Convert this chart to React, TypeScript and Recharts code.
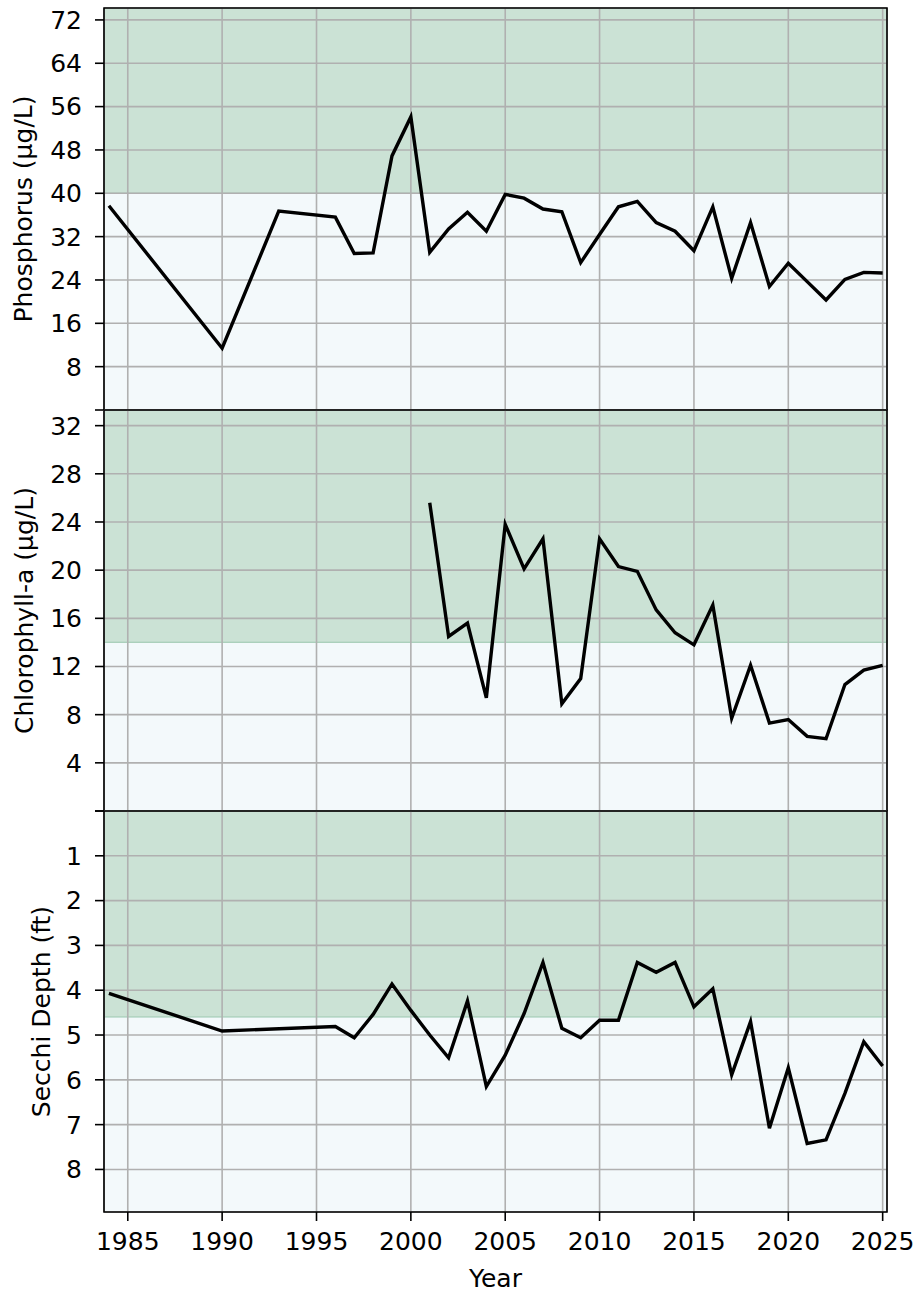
import React from 'react';
import { LineChart, Line, XAxis, YAxis, CartesianGrid, ReferenceArea, ReferenceLine } from 'recharts';

const years = [1984, 1990, 1993, 1996, 1997, 1998, 1999, 2000, 2001, 2002, 2003, 2004, 2005, 2006, 2007, 2008, 2009, 2010, 2011, 2012, 2013, 2014, 2015, 2016, 2017, 2018, 2019, 2020, 2021, 2022, 2023, 2024, 2025];
const phosphorus = [37.7, 11.4, 36.7, 35.6, 28.9, 29.0, 46.9, 54.1, 29.1, 33.4, 36.5, 33.0, 39.8, 39.1, 37.1, 36.6, 27.2, 32.4, 37.5, 38.5, 34.6, 33.0, 29.4, 37.5, 24.3, 34.6, 22.8, 27.1, 23.7, 20.3, 24.1, 25.4, 25.3];
const chlorophyll = [null, null, null, null, null, null, null, null, 25.6, 14.5, 15.6, 9.4, 23.8, 20.1, 22.6, 8.9, 11.0, 22.6, 20.3, 19.9, 16.7, 14.8, 13.8, 17.1, 7.7, 12.1, 7.3, 7.6, 6.2, 6.0, 10.5, 11.7, 12.1];
const secchi = [4.07, 4.91, null, 4.81, 5.06, 4.54, 3.86, 4.45, 5.0, 5.51, 4.24, 6.15, 5.45, 4.52, 3.38, 4.85, 5.06, 4.67, 4.67, 3.38, 3.6, 3.38, 4.37, 3.97, 5.89, 4.70, 7.08, 5.73, 7.42, 7.34, 6.30, 5.15, 5.69];

const yearTicks = [1985, 1990, 1995, 2000, 2005, 2010, 2015, 2020, 2025];
const phosTicks = [0, 8, 16, 24, 32, 40, 48, 56, 64, 72];
const chlTicks = [0, 4, 8, 12, 16, 20, 24, 28, 32];
const secchiTicks = [0, 1, 2, 3, 4, 5, 6, 7, 8];

const xDomain: [number, number] = [1983.74, 2025.23];

const data = years.map((y, i) => ({
  year: y,
  phosphorus: phosphorus[i],
  chlorophyll: chlorophyll[i],
  secchi: secchi[i],
}));

const FONT = 'DejaVu Sans';
const GREEN = '#2e8b57';
const LIGHT = '#add8e6';

function YLabel(props: any) {
  const { viewBox, text, cx, fallbackY } = props;
  const y = viewBox && viewBox.height ? viewBox.y + viewBox.height / 2 : fallbackY;
  return (
    <text x={cx} y={y} transform={`rotate(-90, ${cx}, ${y})`} textAnchor="middle" fontSize={25} fontFamily={FONT} fill="#000">
      {text}
    </text>
  );
}

type PanelProps = {
  top: number;
  height: number;
  marginTop: number;
  marginBottom: number;
  dataKey: string;
  domain: [number, number];
  ticks: number[];
  threshold: number;
  greenAbove: boolean;
  reversed?: boolean;
  label: string;
  labelX: number;
  showX?: boolean;
};

function Panel(p: PanelProps) {
  const [lo, hi] = p.domain;
  const green = p.greenAbove ? [p.threshold, hi] : [lo, p.threshold];
  const light = p.greenAbove ? [lo, p.threshold] : [p.threshold, hi];
  return (
    <div style={{ position: 'absolute', left: 0, top: p.top, width: 918, height: p.height }}>
      <LineChart
        width={918}
        height={p.height}
        data={data}
        margin={{ top: p.marginTop, right: 31, left: 0, bottom: p.marginBottom }}
      >
        <ReferenceArea x1={xDomain[0]} x2={xDomain[1]} y1={green[0]} y2={green[1]} fill={GREEN} fillOpacity={0.25} stroke="none" ifOverflow="hidden" zIndex={-200} />
        <ReferenceArea x1={xDomain[0]} x2={xDomain[1]} y1={light[0]} y2={light[1]} fill={LIGHT} fillOpacity={0.15} stroke="none" ifOverflow="hidden" zIndex={-200} />
        <ReferenceLine y={p.threshold} stroke={GREEN} strokeOpacity={0.3} strokeWidth={1.2} zIndex={-150} />
        <CartesianGrid stroke="#b0b0b0" strokeWidth={1.6} zIndex={-100} />
        <XAxis
          dataKey="year"
          type="number"
          domain={xDomain}
          ticks={yearTicks}
          interval={0}
          allowDataOverflow
          hide={!p.showX}
          height={p.showX ? 80 : 0}
          tickSize={9}
          tickMargin={11}
          axisLine={false}
          tickLine={{ stroke: '#000', strokeWidth: 1.6 }}
          tick={{ fill: '#000', fontSize: 25, fontFamily: FONT }}
          label={p.showX ? { value: 'Year', position: 'insideBottom', offset: 5.5, fontSize: 25, fontFamily: FONT, fill: '#000' } : undefined}
        />
        <YAxis
          type="number"
          domain={p.domain}
          ticks={p.ticks}
          interval={0}
          allowDataOverflow
          reversed={p.reversed}
          width={104}
          tickSize={9}
          tickMargin={13}
          axisLine={false}
          tickLine={{ stroke: '#000', strokeWidth: 1.6 }}
          tick={{ fill: '#000', fontSize: 25, fontFamily: FONT }}
          tickFormatter={(v: number) => (v === 0 ? '' : String(v))}
          label={<YLabel text={p.label} cx={p.labelX} fallbackY={p.marginTop + (p.height - p.marginTop - p.marginBottom) / 2} />}
        />
        <ReferenceArea x1={xDomain[0]} x2={xDomain[1]} y1={lo} y2={hi} fill="none" stroke="#000" strokeWidth={1.6} ifOverflow="visible" />
        <Line
          type="linear"
          dataKey={p.dataKey}
          stroke="#000"
          strokeWidth={3.4}
          dot={false}
          activeDot={false}
          connectNulls
          isAnimationActive={false}
        />
      </LineChart>
    </div>
  );
}

export default function App() {
  return (
    <div style={{ position: 'absolute', left: 0, top: 0, width: 918, height: 1293, background: '#fff', overflow: 'hidden' }}>
      <Panel top={0} height={420} marginTop={8} marginBottom={10} dataKey="phosphorus" domain={[0, 74.2]} ticks={phosTicks} threshold={40} greenAbove label="Phosphorus (µg/L)" labelX={32} />
      <Panel top={400} height={421} marginTop={10} marginBottom={10} dataKey="chlorophyll" domain={[0, 33.3]} ticks={chlTicks} threshold={14} greenAbove label="Chlorophyll-a (µg/L)" labelX={33} />
      <Panel top={801} height={491} marginTop={10} marginBottom={0} dataKey="secchi" domain={[0, 8.95]} ticks={secchiTicks} threshold={4.6} greenAbove={false} reversed label="Secchi Depth (ft)" labelX={50} showX />
    </div>
  );
}
